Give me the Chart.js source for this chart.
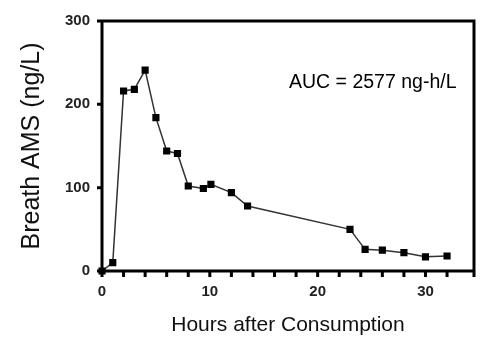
<!DOCTYPE html>
<html>
<head>
<meta charset="utf-8">
<script src="https://cdn.jsdelivr.net/npm/chart.js@4"></script>
<style>
  html, body { margin: 0; padding: 0; background: #fff; }
  #wrap { width: 481px; height: 338px; }
</style>
</head>
<body>
<div id="wrap"><canvas id="chart"></canvas></div>
<script>
// Datos
const hours = [0, 1, 2, 3, 4, 5, 6, 7, 8, 9.4, 10.1, 12, 13.5, 23, 24.4, 26, 28, 30, 32];
const breathAms = [0, 10, 216, 218, 241, 184, 144, 141, 102, 99, 104, 94, 78, 50, 26, 25, 22, 17, 18];
const xTickLabels = [0, 10, 20, 30];
const yTickLabels = [0, 100, 200, 300];
const aucText = 'AUC = 2577 ng-h/L';

// Marco, marcas de los ejes y texto AUC
const framePlugin = {
    id: 'frame',
    afterDraw(chart) {
        const { ctx, chartArea: a, scales } = chart;
        ctx.save();
        ctx.strokeStyle = '#000';
        ctx.lineWidth = 3;
        ctx.beginPath();
        ctx.moveTo(a.left, a.bottom);
        ctx.lineTo(a.left, a.top);
        ctx.lineTo(a.right, a.top);
        ctx.lineTo(a.right, a.bottom);
        ctx.lineTo(a.left, a.bottom);
        scales.x.ticks.forEach(t => {
            const px = scales.x.getPixelForValue(t.value);
            ctx.moveTo(px, a.bottom);
            ctx.lineTo(px, a.bottom + 6);
        });
        scales.y.ticks.forEach(t => {
            const py = scales.y.getPixelForValue(t.value);
            ctx.moveTo(a.left, py);
            ctx.lineTo(a.left - 5, py);
        });
        ctx.stroke();
        ctx.fillStyle = '#000';
        ctx.font = '19.5px "Liberation Sans", Arial, sans-serif';
        ctx.textBaseline = 'middle';
        ctx.fillText(aucText, 289, 83);
        ctx.restore();
    }
};

const tickFont = { family: '"Liberation Sans", Arial, sans-serif', size: 15, weight: 'bold' };

new Chart(document.getElementById('chart'), {
    type: 'line',
    data: {
        datasets: [{
            data: hours.map((h, i) => ({ x: h, y: breathAms[i] })),
            borderColor: '#333',
            borderWidth: 1.5,
            pointStyle: 'rect',
            pointRadius: 4,
            pointBackgroundColor: '#000',
            pointBorderColor: '#000',
            tension: 0,
            clip: false
        }]
    },
    options: {
        responsive: true,
        maintainAspectRatio: false,
        animation: false,
        layout: { padding: { top: 21, right: 7, left: 0, bottom: 0 } },
        plugins: { legend: { display: false }, tooltip: { enabled: false } },
        scales: {
            x: {
                type: 'linear',
                min: 0,
                max: 34.5,
                grid: { display: false },
                border: { display: false },
                ticks: {
                    stepSize: 2,
                    autoSkip: false,
                    maxRotation: 0,
                    color: '#222',
                    font: tickFont,
                    padding: 4,
                    callback: v => xTickLabels.includes(v) ? v : ''
                },
                title: { display: true, text: 'Hours after Consumption', color: '#111', font: { family: '"Liberation Sans", Arial, sans-serif', size: 21 }, padding: { top: 10, bottom: 0 } },
                afterFit: s => { s.height = 67; }
            },
            y: {
                min: 0,
                max: 300,
                grid: { display: false },
                border: { display: false },
                ticks: {
                    stepSize: 100,
                    color: '#222',
                    font: tickFont,
                    padding: 4,
                    callback: v => yTickLabels.includes(v) ? v : ''
                },
                title: { display: true, text: 'Breath AMS (ng/L)', color: '#111', font: { family: '"Liberation Sans", Arial, sans-serif', size: 25 }, padding: { top: 17, bottom: 10 } },
                afterFit: s => { s.width = 102; }
            }
        }
    },
    plugins: [framePlugin]
});
</script>
</body>
</html>
